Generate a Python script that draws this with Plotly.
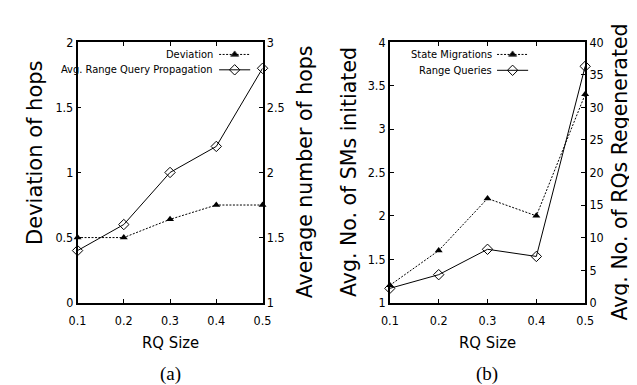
import plotly.graph_objects as go

W, H = 637, 385

# ---------------- data ----------------
rq_size = [0.1, 0.2, 0.3, 0.4, 0.5]
x_ticks = ["0.1", "0.2", "0.3", "0.4", "0.5"]

# (a)
deviation = [0.5, 0.5, 0.64, 0.75, 0.75]            # left axis
avg_rq_propagation = [1.4, 1.6, 2.0, 2.2, 2.8]      # right axis

# (b)
state_migrations = [1.2, 1.6, 2.2, 2.0, 3.4]        # left axis
range_queries = [2.2, 4.3, 8.2, 7.1, 36.3]          # right axis


def px(x):
    return x / W


def py(y):
    return 1 - y / H


NARROW = "Liberation Sans Narrow, DejaVu Sans Condensed, Arial Narrow, sans-serif"
WIDE = "DejaVu Sans, Verdana, sans-serif"
SERIF = "Liberation Serif, Times New Roman, serif"
TICKFONT = dict(family=NARROW, size=12.5, color="black")

dash_dev = "2px,1.5px"
TRI = 7
DIA = 8

fig = go.Figure()

# (a)
fig.add_trace(go.Scatter(x=rq_size, y=deviation, mode="lines+markers", xaxis="x", yaxis="y",
                         line=dict(color="black", width=1, dash=dash_dev),
                         marker=dict(symbol="triangle-up", size=TRI, color="black"),
                         cliponaxis=False, showlegend=False))
fig.add_trace(go.Scatter(x=rq_size, y=avg_rq_propagation, mode="lines+markers", xaxis="x", yaxis="y2",
                         line=dict(color="black", width=1),
                         marker=dict(symbol="diamond-open", size=DIA, color="black", line=dict(width=1)),
                         cliponaxis=False, showlegend=False))
# (b)
fig.add_trace(go.Scatter(x=rq_size, y=state_migrations, mode="lines+markers", xaxis="x2", yaxis="y3",
                         line=dict(color="black", width=1, dash=dash_dev),
                         marker=dict(symbol="triangle-up", size=TRI, color="black"),
                         cliponaxis=False, showlegend=False))
fig.add_trace(go.Scatter(x=rq_size, y=range_queries, mode="lines+markers", xaxis="x2", yaxis="y4",
                         line=dict(color="black", width=1),
                         marker=dict(symbol="diamond-open", size=DIA, color="black", line=dict(width=1)),
                         cliponaxis=False, showlegend=False))

# ---------------- legend keys (gnuplot style: text, then sample) ----------------
legend_rows = [
    # text, text right edge, sample x0, sample x1, y, dashed, symbol
    ("Deviation", 204, 208, 240, 40, True, "triangle-up"),
    ("Avg. Range Query Propagation", 204, 208, 240, 56, False, "diamond-open"),
    ("State Migrations", 491, 494, 526, 40, True, "triangle-up"),
    ("Range Queries", 491, 494, 526, 56.5, False, "diamond-open"),
]
annotations = []
shapes = []
for text, xr, x0, x1, y, dashed, sym in legend_rows:
    annotations.append(dict(text=text, x=px(xr), y=py(y), xref="paper", yref="paper",
                            xanchor="right", yanchor="middle", showarrow=False,
                            font=dict(family=NARROW, size=11, color="black")))
    shapes.append(dict(type="line", xref="paper", yref="paper", x0=px(x0), x1=px(x1),
                       y0=py(y), y1=py(y),
                       line=dict(color="black", width=1, dash=dash_dev if dashed else "solid")))
    fig.add_trace(go.Scatter(x=[px((x0 + x1) / 2)], y=[py(y)], mode="markers", xaxis="x3", yaxis="y5",
                             marker=dict(symbol=sym, size=TRI if sym.startswith("tri") else DIA,
                                         color="black", line=dict(width=1)),
                             cliponaxis=False, showlegend=False))

# ---------------- axis titles ----------------
def vtitle(text, x, y, size=20.5):
    annotations.append(dict(text=text, x=px(x), y=py(y), xref="paper", yref="paper",
                            textangle=-90, xanchor="center", yanchor="middle", showarrow=False,
                            font=dict(family=WIDE, size=size, color="black")))

vtitle("Deviation of hops", 19, 142, 21)
vtitle("Average number of hops", 296, 162)
vtitle("Avg. No. of SMs initiated", 341, 162)
vtitle("Avg. No. of RQs Regenerated", 621, 162.5)

for xc, cap in [(157.5, "(a)"), (484, "(b)")]:
    annotations.append(dict(text="RQ Size", x=px(xc), y=py(340), xref="paper", yref="paper",
                            xanchor="center", yanchor="middle", showarrow=False,
                            font=dict(family=NARROW, size=16.5, color="black")))
    annotations.append(dict(text=cap, x=px(xc), y=py(373), xref="paper", yref="paper",
                            xanchor="center", yanchor="middle", showarrow=False,
                            font=dict(family=SERIF, size=19, color="black")))

# ---------------- axes ----------------
ydom = [py(298.3), py(27.3)]
common = dict(showline=True, linecolor="black", linewidth=1.5, ticks="inside", ticklen=4,
              tickcolor="black", tickwidth=1, showgrid=False, zeroline=False, tickfont=TICKFONT)

xcommon = dict(common, range=[0.1, 0.5], tickvals=rq_size, ticktext=x_ticks, mirror="ticks",
               ticklabelstandoff=6)

fig.update_layout(
    width=W, height=H, autosize=False,
    margin=dict(l=0, r=0, t=0, b=0),
    paper_bgcolor="white", plot_bgcolor="rgba(0,0,0,0)",
    xaxis=dict(xcommon, domain=[px(62.3), px(252.7)], anchor="y"),
    yaxis=dict(common, domain=ydom, range=[0, 2], dtick=0.5, anchor="x", mirror=True),
    yaxis2=dict(common, range=[1, 3], dtick=0.5, anchor="x", overlaying="y", side="right"),
    xaxis2=dict(xcommon, domain=[px(383.7), px(584.7)], anchor="y3"),
    yaxis3=dict(common, domain=ydom, range=[1, 4], dtick=0.5, anchor="x2", mirror=True),
    yaxis4=dict(common, range=[0, 40], dtick=5, anchor="x2", overlaying="y3", side="right"),
    xaxis3=dict(domain=[0, 1], range=[0, 1], visible=False, anchor="y5"),
    yaxis5=dict(domain=[0, 1], range=[0, 1], visible=False, anchor="x3"),
    annotations=annotations,
    shapes=shapes,
    showlegend=False,
)

fig.write_html("out.html")
